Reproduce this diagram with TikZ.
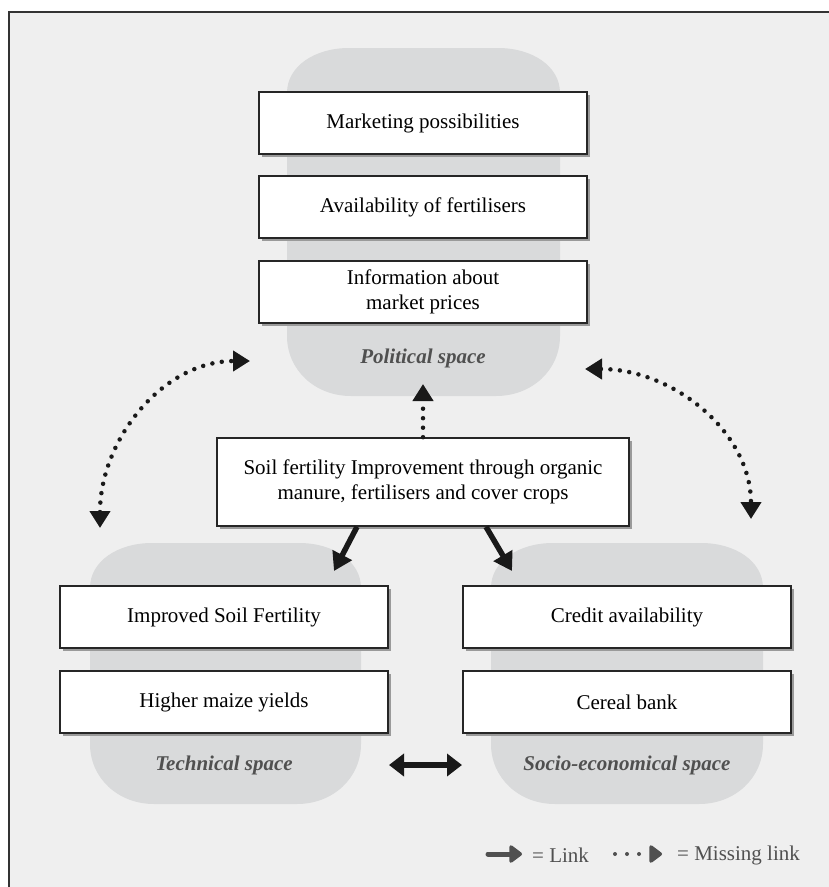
\documentclass[tikz,border=0pt]{standalone}
\usepackage{fontspec}
\setmainfont{Liberation Serif}
\usetikzlibrary{arrows.meta, shadows}

\definecolor{bggray}{HTML}{EFEFEF}
\definecolor{spacegray}{HTML}{D9DADB}
\definecolor{labelgray}{HTML}{505050}
\definecolor{shadowgray}{HTML}{9A9A9A}

\tikzset{
  factor/.style={draw=black!85, line width=1.6pt, fill=white,
    minimum width=328pt, minimum height=62pt, inner sep=0pt, align=center,
    font=\fontsize{21}{24.5}\selectfont,
    drop shadow={shadow xshift=3pt, shadow yshift=-3pt, fill=shadowgray, opacity=1}},
  spacelabel/.style={text=labelgray, inner sep=0pt,
    font=\fontsize{21}{24.5}\selectfont\bfseries\itshape},
  legendtext/.style={text=labelgray, inner sep=0pt, anchor=west,
    font=\fontsize{21}{24.5}\selectfont},
  link/.style={line width=5.5pt, black!90, -{Triangle[length=18pt,width=21pt]}},
  missing/.style={line width=4.5pt, black!90, line cap=round,
    dash pattern=on 0pt off 9.5pt, -{Triangle[length=17pt,width=20pt]}}
}

% rounded space behind the factor boxes: left, top, right, bottom
\newcommand{\spaceblob}[4]{%
  \fill[spacegray] (#1,#2+45) .. controls (#1,#2+18) and (#1+28,#2) .. (#1+62,#2)
    -- (#3-62,#2) .. controls (#3-28,#2) and (#3,#2+18) .. (#3,#2+45)
    -- (#3,#4-60) .. controls (#3,#4-26) and (#3-28,#4) .. (#3-64,#4)
    -- (#1+64,#4) .. controls (#1+28,#4) and (#1,#4-26) .. (#1,#4-60) -- cycle;}

\begin{document}
\begin{tikzpicture}[x=1pt, y=-1pt]
  \useasboundingbox (0,0) rectangle (829,887);
  \fill[bggray] (9,12) rectangle (829,887);
  \draw[black!80, line width=1.5pt] (9,887) -- (9,12) -- (829,12);

  % spaces
  \spaceblob{287}{48}{560}{396}
  \spaceblob{90}{543}{361}{804}
  \spaceblob{491}{543}{763}{804}

  % political space
  \node[factor] (market) at (423,123) {Marketing possibilities};
  \node[factor] (avail) at (423,207) {Availability of fertilisers};
  \node[factor] (info) at (423,292) {Information about\\market prices};
  \node[spacelabel] (political) at (423,358) {Political space};

  % intervention
  \node[factor, minimum width=412pt, minimum height=88pt] (soil) at (423,482)
    {Soil fertility Improvement through organic\\manure, fertilisers and cover crops};

  % technical space
  \node[factor] (improved) at (224,617) {Improved Soil Fertility};
  \node[factor] (higher) at (224,702) {Higher maize yields};
  \node[spacelabel] (technical) at (224,765) {Technical space};

  % socio-economical space
  \node[factor] (credit) at (627,617) {Credit availability};
  \node[factor] (cereal) at (627,702) {Cereal bank};
  \node[spacelabel] (socio) at (627,765) {Socio-economical space};

  \coordinate (poltip) at (423,384);
  \coordinate (techtip) at (334,571);
  \coordinate (sociotip) at (512,571);
  \coordinate (techend) at (389,765);
  \coordinate (socioend) at (462,765);
  \coordinate (leftlow) at (100,528);
  \coordinate (lefthigh) at (250,361);
  \coordinate (righthigh) at (585,369);
  \coordinate (rightlow) at (751,519);

  \draw[missing] (soil.north) -- (poltip);
  \draw[link] ([xshift=-66pt]soil.south) -- (techtip);
  \draw[link] ([xshift=63pt]soil.south) -- (sociotip);
  \draw[link, line width=6pt, {Triangle[length=15pt,width=22pt]}-{Triangle[length=15pt,width=22pt]}] (techend) -- (socioend);
  \draw[missing, {Triangle[length=17pt,width=20pt]}-{Triangle[length=17pt,width=20pt]}] (leftlow) to[out=90, in=180] (lefthigh);
  \draw[missing, {Triangle[length=17pt,width=20pt]}-{Triangle[length=17pt,width=20pt]}] (righthigh) to[out=0, in=90] (rightlow);

  % legend
  \coordinate (linkfrom) at (488,854);
  \coordinate (linkto) at (522,854);
  \coordinate (missfrom) at (615,854);
  \coordinate (missto) at (662,854);
  \node[legendtext] (linktext) at (532,855) {= Link};
  \node[legendtext] (misstext) at (677,855) {= Missing link};
  \draw[link, labelgray, line cap=round, line width=5pt, -{Triangle[length=14pt,width=20pt,round]}] (linkfrom) -- (linkto);
  \draw[missing, labelgray, line width=4pt, dash pattern=on 0pt off 12pt, -{Triangle[length=14pt,width=20pt,round]}] (missfrom) -- (missto);
\end{tikzpicture}
\end{document}
